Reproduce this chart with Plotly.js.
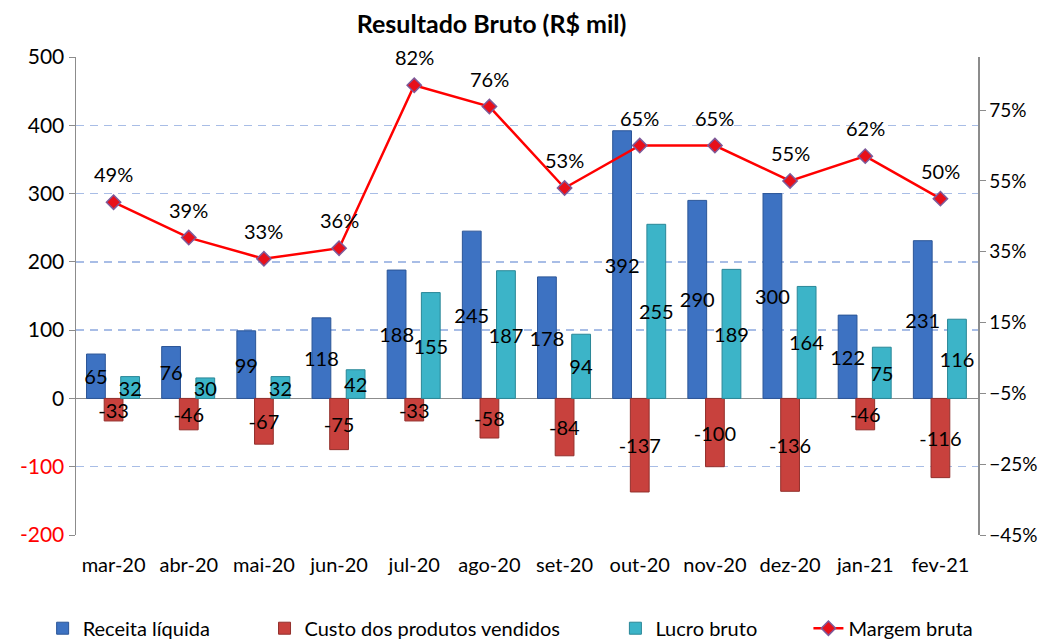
<!DOCTYPE html>
<html>
<head>
<meta charset="utf-8">
<script src="https://cdn.plot.ly/plotly-3.0.1.min.js"></script>
<style>html,body{margin:0;padding:0;background:#fff}#chart{width:1046px;height:639px}</style>
</head>
<body>
<div id="chart"></div>
<script>
const months = ["mar-20","abr-20","mai-20","jun-20","jul-20","ago-20","set-20","out-20","nov-20","dez-20","jan-21","fev-21"];
const receita = [65,76,99,118,188,245,178,392,290,300,122,231];
const custo = [-33,-46,-67,-75,-33,-58,-84,-137,-100,-136,-46,-116];
const lucro = [32,30,32,42,155,187,94,255,189,164,75,116];
const margem = [0.49,0.39,0.33,0.36,0.82,0.76,0.53,0.65,0.65,0.55,0.62,0.50];
const leftTicks = [-200,-100,0,100,200,300,400,500];
const rightTicks = [-0.45,-0.25,-0.05,0.15,0.35,0.55,0.75];

const FONT = "Lato, 'Open Sans', sans-serif";
const barText = {family: FONT, size: 20, color: "#000"};

function barTrace(name, vals, color, line, offset, lg) {
  return {
    type: "bar", name: name, x: months, y: vals, legend: lg,
    width: 0.25, offset: offset,
    marker: {color: color, line: {color: line, width: 1}},
    text: vals.map(String), textposition: "inside", insidetextanchor: "middle",
    textangle: 0, constraintext: "none", insidetextfont: barText, cliponaxis: false,
    hoverinfo: "x+y"
  };
}

const traces = [
  barTrace("Receita líquida", receita, "#3d72c2", "#2b5597", -0.36, "legend"),
  barTrace("Custo dos produtos vendidos", custo, "#c8413d", "#93302c", -0.125, "legend2"),
  barTrace("Lucro bruto", lucro, "#3cb4c8", "#2a8797", 0.095, "legend3"),
  {
    type: "scatter", mode: "lines+markers", name: "Margem bruta", legend: "legend4",
    x: months, y: margem, yaxis: "y2",
    line: {color: "#ff0000", width: 2.5},
    marker: {symbol: "diamond", size: 11, color: "#e8101a", line: {color: "#7d5a9a", width: 1.5}},
    cliponaxis: false
  }
];

const annotations = months.map((m, i) => ({
  x: m, y: margem[i], xref: "x", yref: "y2",
  text: Math.round(margem[i] * 100) + "%", showarrow: false,
  yshift: 28, font: {family: FONT, size: 20, color: "#000"}
}));

const ticktext = leftTicks.map(v => v < 0 ? '<span style="color:#ff0000">' + v + '</span>' : String(v));

function lg(x) {
  return {orientation: "h", x: x, xanchor: "left", y: -0.195, yanchor: "middle",
          font: {family: FONT, size: 20, color: "#000"}, bgcolor: "rgba(0,0,0,0)"};
}

const layout = {
  width: 1046, height: 639,
  margin: {l: 76, r: 68, t: 57, b: 104, autoexpand: false},
  paper_bgcolor: "#fff", plot_bgcolor: "#fff",
  font: {family: FONT, size: 18, color: "#000"},
  title: {text: "<b>Resultado Bruto (R$ mil)</b>", x: 0.47, xanchor: "center", y: 0.962, yanchor: "middle",
          font: {family: FONT, size: 25, color: "#000"}},
  barmode: "overlay",
  showlegend: true,
  legend: lg(-0.037),
  legend2: lg(0.209),
  legend3: lg(0.598),
  legend4: lg(0.812),
  xaxis: {
    type: "category", range: [-0.5, months.length - 0.5],
    showgrid: false, zeroline: false, showline: false,
    ticks: "", ticklabelstandoff: 16, tickfont: {family: FONT, size: 20, color: "#000"}
  },
  yaxis: {
    range: [-200, 500], tickvals: leftTicks, ticktext: ticktext,
    showgrid: true, gridcolor: "#a8bde6", griddash: "8px,6px", gridwidth: 1.5,
    zeroline: true, zerolinecolor: "#8c8c8c", zerolinewidth: 1.5,
    showline: true, linecolor: "#8c8c8c", linewidth: 1.5,
    ticks: "outside", ticklen: 6, tickcolor: "#8c8c8c",
    tickfont: {family: FONT, size: 21, color: "#000"}
  },
  yaxis2: {
    range: [-0.45, 0.90], tickvals: rightTicks, tickformat: ".0%",
    overlaying: "y", side: "right", showgrid: false, zeroline: false,
    showline: true, linecolor: "#8c8c8c", linewidth: 1.5,
    ticks: "outside", ticklen: 6, tickcolor: "#8c8c8c",
    tickfont: {family: FONT, size: 19, color: "#000"}
  },
  annotations: annotations
};

Plotly.newPlot("chart", traces, layout, {displayModeBar: false, staticPlot: true});
</script>
</body>
</html>
